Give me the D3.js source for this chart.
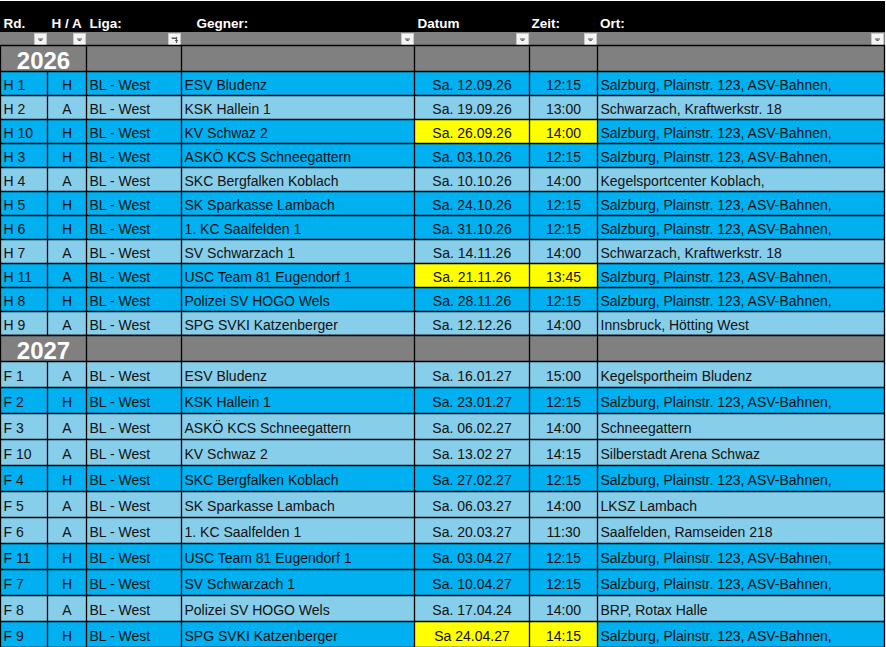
<!DOCTYPE html>
<html>
<head>
<meta charset="utf-8">
<script src="https://cdn.jsdelivr.net/npm/d3@7/dist/d3.min.js"></script>
<style>
html,body{margin:0;padding:0;background:#fff;}
svg{display:block;}
text{font-family:"Liberation Sans",Arial,sans-serif;}
</style>
</head>
<body>
<svg id="chart" width="886" height="647"></svg>
<script>
// ---------- data ----------
const columns = ["Rd.", "H / A", "Liga:", "Gegner:", "Datum", "Zeit:", "Ort:"];
const years = ["2026", "2027"];
const liga = "BL - West";

const rounds26 = ["H 1","H 2","H 10","H 3","H 4","H 5","H 6","H 7","H 11","H 8","H 9"];
const homeAway26 = ["H","A","H","H","A","H","H","A","A","H","A"];
const opponents26 = ["ESV Bludenz","KSK Hallein 1","KV Schwaz 2","ASKÖ KCS Schneegattern","SKC Bergfalken Koblach","SK Sparkasse Lambach","1. KC Saalfelden 1","SV Schwarzach 1","USC Team 81 Eugendorf 1","Polizei SV HOGO Wels","SPG SVKI Katzenberger"];
const dates26 = ["Sa. 12.09.26","Sa. 19.09.26","Sa. 26.09.26","Sa. 03.10.26","Sa. 10.10.26","Sa. 24.10.26","Sa. 31.10.26","Sa. 14.11.26","Sa. 21.11.26","Sa. 28.11.26","Sa. 12.12.26"];
const times26 = ["12:15","13:00","14:00","12:15","14:00","12:15","12:15","14:00","13:45","12:15","14:00"];
const venues26 = ["Salzburg, Plainstr. 123, ASV-Bahnen,","Schwarzach, Kraftwerkstr. 18","Salzburg, Plainstr. 123, ASV-Bahnen,","Salzburg, Plainstr. 123, ASV-Bahnen,","Kegelsportcenter Koblach,","Salzburg, Plainstr. 123, ASV-Bahnen,","Salzburg, Plainstr. 123, ASV-Bahnen,","Schwarzach, Kraftwerkstr. 18","Salzburg, Plainstr. 123, ASV-Bahnen,","Salzburg, Plainstr. 123, ASV-Bahnen,","Innsbruck, Hötting West"];
const changed26 = [false,false,true,false,false,false,false,false,true,false,false];

const rounds27 = ["F 1","F 2","F 3","F 10","F 4","F 5","F 6","F 11","F 7","F 8","F 9"];
const homeAway27 = ["A","H","A","A","H","A","A","H","H","A","H"];
const opponents27 = ["ESV Bludenz","KSK Hallein 1","ASKÖ KCS Schneegattern","KV Schwaz 2","SKC Bergfalken Koblach","SK Sparkasse Lambach","1. KC Saalfelden 1","USC Team 81 Eugendorf 1","SV Schwarzach 1","Polizei SV HOGO Wels","SPG SVKI Katzenberger"];
const dates27 = ["Sa. 16.01.27","Sa. 23.01.27","Sa. 06.02.27","Sa. 13.02 27","Sa. 27.02.27","Sa. 06.03.27","Sa. 20.03.27","Sa. 03.04.27","Sa. 10.04.27","Sa. 17.04.24","Sa 24.04.27"];
const times27 = ["15:00","12:15","14:00","14:15","12:15","14:00","11:30","12:15","12:15","14:00","14:15"];
const venues27 = ["Kegelsportheim Bludenz","Salzburg, Plainstr. 123, ASV-Bahnen,","Schneegattern","Silberstadt Arena Schwaz","Salzburg, Plainstr. 123, ASV-Bahnen,","LKSZ Lambach","Saalfelden, Ramseiden 218","Salzburg, Plainstr. 123, ASV-Bahnen,","Salzburg, Plainstr. 123, ASV-Bahnen,","BRP, Rotax Halle","Salzburg, Plainstr. 123, ASV-Bahnen,"];
const changed27 = [false,false,false,false,false,false,false,false,false,false,true];

// ---------- layout ----------
const svg = d3.select("#chart");
const colEdges = [0.5, 47.5, 86.5, 181.5, 414.5, 529.5, 597.5, 884.5];
const colLeft = d3.scaleOrdinal().domain(columns).range(colEdges.slice(0, 7));
const colRight = d3.scaleOrdinal().domain(columns).range(colEdges.slice(1));
const colAlign = d3.scaleOrdinal().domain(columns).range(["start","middle","start","start","middle","middle","start"]);
const headerOffset = d3.scaleOrdinal().domain(columns).range([3, 4, 3, 15, 3, 2, 2.5]);

const fillScale = d3.scaleOrdinal().domain(["home","away","changed","year"]).range(["#00B0F0","#87CEEB","#FFFF00","#808080"]);

const headerTop = 1, headerBottom = 32, filterBottom = 46;
const sections = [
  {year: years[0], top: 46, yearH: 26, rowH: 24, rounds: rounds26, ha: homeAway26, opp: opponents26, dates: dates26, times: times26, venues: venues26, changed: changed26},
  {year: years[1], top: 336, yearH: 26, rowH: 26, rounds: rounds27, ha: homeAway27, opp: opponents27, dates: dates27, times: times27, venues: venues27, changed: changed27}
];

// header
svg.append("rect").attr("x", 0).attr("y", headerTop).attr("width", 885).attr("height", headerBottom - headerTop).attr("fill", "#000");
svg.append("rect").attr("x", 0).attr("y", headerBottom).attr("width", 885).attr("height", filterBottom - headerBottom).attr("fill", "#808080");

svg.selectAll("text.hdr").data(columns).enter().append("text")
  .attr("class", "hdr")
  .attr("x", d => colLeft(d) + headerOffset(d))
  .attr("y", 28)
  .attr("fill", "#fff")
  .attr("font-weight", "bold")
  .attr("font-size", "13.5px")
  .text(d => d);

// filter buttons
const btn = svg.selectAll("g.btn").data(columns).enter().append("g")
  .attr("class", "btn")
  .attr("transform", d => `translate(${colRight(d) - 13.5},33)`);
btn.append("rect").attr("x", 0.5).attr("y", 0.5).attr("width", 12).attr("height", 12)
  .attr("fill", "#f4f4f4").attr("stroke", "#c9c9c9");
btn.filter(d => d !== "Liga:").append("path")
  .attr("d", "M4,6 H9 M5.5,7 H7.5 L6.5,8 Z")
  .attr("stroke", "#555").attr("stroke-width", 1).attr("fill", "#555");
btn.filter(d => d === "Liga:").append("path")
  .attr("d", "M4,5.5 H8.5 V10 M7,7.5 H10 M8.5,4 V10 M3.5,5 H9")
  .attr("stroke", "#555").attr("stroke-width", 1.2).attr("fill", "none");

// sections
sections.forEach(sec => {
  const g = svg.append("g");
  const rowTop = sec.top + sec.yearH;
  const y = d3.scaleBand().domain(sec.rounds).range([rowTop, rowTop + sec.rowH * sec.rounds.length]);
  // year row
  g.append("rect").attr("x", 0).attr("y", sec.top).attr("width", 884.5).attr("height", sec.yearH).attr("fill", fillScale("year"));
  g.append("text")
    .attr("x", (colLeft("Rd.") + colRight("H / A")) / 2)
    .attr("y", sec.top + sec.yearH - 3)
    .attr("text-anchor", "middle")
    .attr("fill", "#fff").attr("font-weight", "bold").attr("font-size", "24px")
    .text(sec.year);

  const rows = sec.rounds.map((r, i) => ({
    "Rd.": r, "H / A": sec.ha[i], "Liga:": liga, "Gegner:": sec.opp[i],
    "Datum": sec.dates[i], "Zeit:": sec.times[i], "Ort:": sec.venues[i],
    home: sec.venues[i].startsWith("Salzburg"), changed: sec.changed[i]
  }));

  const rowG = g.selectAll("g.row").data(rows).enter().append("g")
    .attr("class", "row")
    .attr("transform", d => `translate(0,${y(d["Rd."])})`);

  rowG.selectAll("rect").data(d => columns.map(c => ({c, d}))).enter().append("rect")
    .attr("x", e => colLeft(e.c))
    .attr("y", 0)
    .attr("width", e => colRight(e.c) - colLeft(e.c))
    .attr("height", y.bandwidth())
    .attr("fill", e => (e.d.changed && (e.c === "Datum" || e.c === "Zeit:")) ? fillScale("changed") : (e.d.home ? fillScale("home") : fillScale("away")));

  rowG.selectAll("text").data(d => columns.map(c => ({c, d}))).enter().append("text")
    .attr("x", e => colAlign(e.c) === "middle" ? (colLeft(e.c) + colRight(e.c)) / 2 : colLeft(e.c) + 3)
    .attr("y", y.bandwidth() / 2 + 6)
    .attr("text-anchor", e => colAlign(e.c))
    .attr("fill", "#111")
    .attr("font-size", "14px")
    .text(e => e.d[e.c]);

  // grid lines
  const bottom = rowTop + sec.rowH * sec.rounds.length;
  const hLines = [sec.top, rowTop].concat(sec.rounds.map(r => y(r) + y.bandwidth()));
  g.selectAll("line.h").data(hLines).enter().append("line")
    .attr("x1", 0).attr("x2", 885)
    .attr("y1", d => Math.round(d) - 0.5).attr("y2", d => Math.round(d) - 0.5)
    .attr("stroke", "#000").attr("stroke-width", 1.3);
  g.selectAll("line.v").data(colEdges).enter().append("line")
    .attr("x1", d => d).attr("x2", d => d)
    .attr("y1", d => d === colEdges[1] ? rowTop : sec.top)
    .attr("y2", bottom)
    .attr("stroke", "#000").attr("stroke-width", 1.3);
});
</script>
</body>
</html>
